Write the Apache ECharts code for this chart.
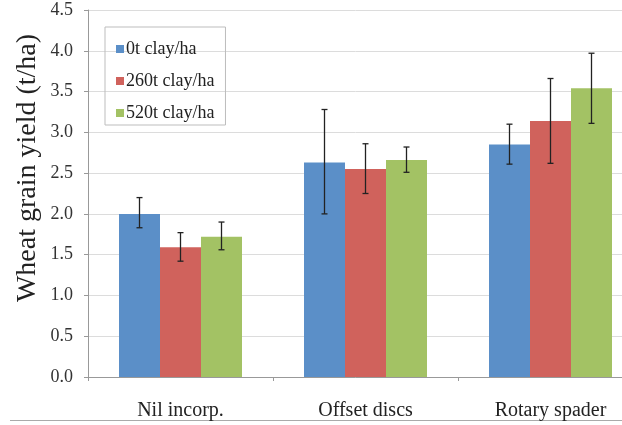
<!DOCTYPE html>
<html><head><meta charset="utf-8">
<script src="https://cdn.jsdelivr.net/npm/echarts@6/dist/echarts.min.js"></script>
<style>html,body{margin:0;padding:0;background:#fff}#c{width:622px;height:425px}</style>
</head><body><div id="c"></div>
<script>
var categories = ['Nil incorp.', 'Offset discs', 'Rotary spader'];
var seriesNames = ['0t clay/ha', '260t clay/ha', '520t clay/ha'];
var clay0 = [2.00, 2.63, 2.85];
var clay260 = [1.59, 2.55, 3.14];
var clay520 = [1.72, 2.66, 3.54];
var clay0Low = [1.83, 2.00, 2.61];
var clay0High = [2.20, 3.28, 3.10];
var clay260Low = [1.42, 2.25, 2.62];
var clay260High = [1.77, 2.86, 3.66];
var clay520Low = [1.56, 2.51, 3.11];
var clay520High = [1.90, 2.82, 3.97];
var yTicks = ['0.0','0.5','1.0','1.5','2.0','2.5','3.0','3.5','4.0','4.5'];
var yTitle = 'Wheat grain yield (t/ha)';
var colors = ['#5b8fc8', '#d0625c', '#a3c264'];

var values = [clay0, clay260, clay520];
var lows = [clay0Low, clay260Low, clay520Low];
var highs = [clay0High, clay260High, clay520High];
var BW = 41;
var font = 'Liberation Serif, Times New Roman, serif';

var series = [];
values.forEach(function (v, i) {
  series.push({
    name: seriesNames[i], type: 'bar', data: v, barWidth: BW, barGap: '0%',
    itemStyle: { color: colors[i] }
  });
});
values.forEach(function (v, i) {
  series.push({
    type: 'custom', silent: true, z: 10,
    data: categories.map(function (c, k) { return [k, lows[i][k], highs[i][k]]; }),
    renderItem: function (params, api) {
      var lo = api.coord([api.value(0), api.value(1)]);
      var hi = api.coord([api.value(0), api.value(2)]);
      var x = lo[0] + (i - 1) * BW;
      var cap = 3;
      var st = { stroke: '#222', lineWidth: 1.3 };
      return { type: 'group', children: [
        { type: 'line', shape: { x1: x, y1: hi[1], x2: x, y2: lo[1] }, style: st },
        { type: 'line', shape: { x1: x - cap, y1: hi[1], x2: x + cap, y2: hi[1] }, style: st },
        { type: 'line', shape: { x1: x - cap, y1: lo[1], x2: x + cap, y2: lo[1] }, style: st }
      ]};
    }
  });
});

var chart = echarts.init(document.getElementById('c'), null, { renderer: 'canvas' });
chart.setOption({
  animation: false,
  backgroundColor: '#fff',
  textStyle: { fontFamily: font },
  grid: { left: 88, top: 10, right: -21, bottom: 48, containLabel: false, outerBoundsMode: 'none' },
  legend: {
    data: seriesNames, orient: 'vertical', left: 105, top: 27,
    itemWidth: 8, itemHeight: 8, itemGap: 14, icon: 'rect',
    padding: [13, 11, 3, 11], borderColor: '#bdbdbd', borderWidth: 1,
    textStyle: { fontFamily: font, fontSize: 18, color: '#222', lineHeight: 18, padding: [0,0,0,-3] }
  },
  xAxis: {
    type: 'category', data: categories,
    axisLine: { lineStyle: { color: '#999' } },
    axisTick: { show: true, length: 4, lineStyle: { color: '#999' } },
    axisLabel: { fontFamily: font, fontSize: 20, color: '#222', margin: 24 }
  },
  yAxis: {
    type: 'value', min: 0, max: 4.5, interval: 0.5,
    axisLine: { show: true, lineStyle: { color: '#999' } },
    axisTick: { show: true, length: 4, lineStyle: { color: '#999' } },
    axisLabel: { fontFamily: font, fontSize: 18, color: '#333', margin: 15,
      formatter: function (v) { return yTicks[Math.round(v / 0.5)]; } },
    splitLine: { lineStyle: { color: '#dcdcdc', width: 1 } }
  },
  graphic: [
    { type: 'line', shape: { x1: 10, y1: 420.5, x2: 622, y2: 420.5 }, style: { stroke: '#aaa', lineWidth: 1 } },
    { type: 'text', x: 28, y: 168, rotation: Math.PI / 2,
      style: { text: yTitle, font: '28px ' + font, fill: '#222', textAlign: 'center', textVerticalAlign: 'middle' } }
  ],
  series: series
});
</script></body></html>
